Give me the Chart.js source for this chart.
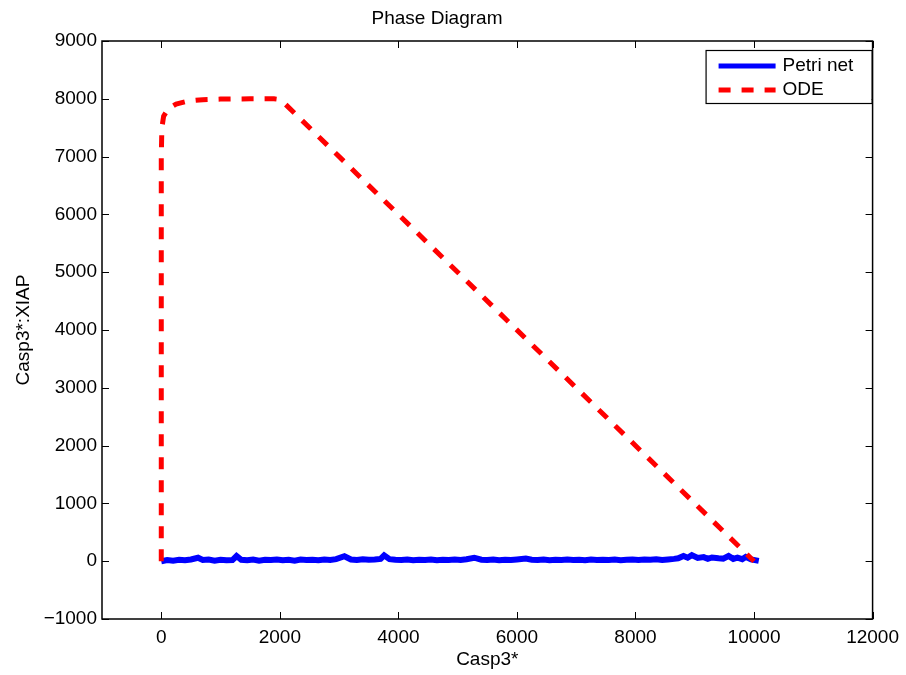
<!DOCTYPE html>
<html>
<head>
<meta charset="utf-8">
<script src="https://cdn.jsdelivr.net/npm/chart.js@4.4.0/dist/chart.umd.min.js"></script>
<style>
  html, body { margin: 0; padding: 0; background: #fff; }
  #wrap { width: 906px; height: 675px; }
</style>
</head>
<body>
<div id="wrap"><canvas id="phase"></canvas></div>
<script>
// series
const petriX = [0, 100, 200, 300, 400, 500, 620, 700, 800, 900, 1000, 1100, 1200, 1270, 1350, 1450, 1550, 1650, 1750, 1850,
  1950, 2050, 2150, 2250, 2350, 2450, 2550, 2650, 2750, 2850, 2950, 3090, 3200, 3300, 3400, 3500, 3600, 3700, 3760, 3850,
  3950, 4050, 4150, 4250, 4350, 4450, 4550, 4650, 4750, 4850, 4950, 5050, 5150, 5280, 5400, 5500, 5600, 5700, 5800, 5900,
  6000, 6150, 6250, 6350, 6450, 6550, 6650, 6750, 6850, 6950, 7050, 7150, 7250, 7350, 7450, 7550, 7650, 7750, 7850, 7950,
  8050, 8150, 8250, 8350, 8450, 8550, 8650, 8720, 8810, 8880, 8950, 9050, 9150, 9220, 9290, 9400, 9480, 9570, 9650, 9720,
  9800, 9860, 9950, 10080];
const petriY = [0, 20, 10, 25, 15, 30, 60, 20, 30, 10, 25, 15, 20, 90, 25, 15, 30, 10, 25, 20,
  30, 15, 25, 10, 30, 20, 25, 15, 30, 20, 35, 85, 30, 20, 35, 25, 30, 40, 100, 35,
  25, 20, 30, 15, 25, 20, 30, 15, 25, 20, 30, 20, 35, 60, 25, 20, 30, 15, 25, 20,
  30, 45, 25, 20, 30, 15, 25, 20, 30, 20, 25, 15, 30, 20, 25, 20, 30, 15, 25, 30,
  20, 30, 25, 35, 20, 30, 40, 50, 90, 60, 105, 55, 70, 40, 65, 50, 45, 90, 40, 60,
  35, 75, 30, 5];
const odeX = [0, 0, 0, 0, 10, 40, 120, 250, 450, 700, 1000, 1500, 1900, 1980, 2050, 10000];
const odeY = [0, 2000, 5000, 7000, 7500, 7700, 7830, 7910, 7960, 7985, 7995, 8000, 8000, 7990, 7950, 0];
const seriesNames = ["Petri net", "ODE"];
const xTickValues = [0, 2000, 4000, 6000, 8000, 10000, 12000];

const toPoints = (xs, ys) => xs.map((x, i) => ({ x: x, y: ys[i] }));
const plainLabel = v => String(v).replace("-", "\u2212");

Chart.defaults.font.family = "'Liberation Sans', Arial, sans-serif";
Chart.defaults.font.size = 19;
Chart.defaults.color = "#000";

// box round the plot, inward ticks on all four sides, legend box
const matlabFrame = {
  id: "matlabFrame",
  afterDraw(chart) {
    const ctx = chart.ctx;
    const a = chart.chartArea;
    const xs = chart.scales.x, ys = chart.scales.y;
    ctx.save();
    ctx.strokeStyle = "#000";
    ctx.lineWidth = 1.5;
    ctx.strokeRect(a.left, a.top, a.right - a.left, a.bottom - a.top);
    ctx.lineWidth = 1;
    const tl = 7;
    ctx.beginPath();
    xs.ticks.forEach(t => {
      const px = Math.round(xs.getPixelForValue(t.value)) + 0.5;
      ctx.moveTo(px, a.bottom); ctx.lineTo(px, a.bottom - tl);
      ctx.moveTo(px, a.top); ctx.lineTo(px, a.top + tl);
    });
    ys.ticks.forEach(t => {
      const py = Math.round(ys.getPixelForValue(t.value)) + 0.5;
      ctx.moveTo(a.left, py); ctx.lineTo(a.left + tl, py);
      ctx.moveTo(a.right, py); ctx.lineTo(a.right - tl, py);
    });
    ctx.stroke();

    // legend
    const bx = a.right - 167, by = a.top + 9, bw = 166, bh = 53;
    ctx.fillStyle = "#fff";
    ctx.fillRect(bx, by, bw, bh);
    ctx.lineWidth = 1.2;
    ctx.strokeRect(bx + 0.5, by + 0.5, bw, bh);
    const dsets = chart.data.datasets;
    [0, 1].forEach(i => {
      const ds = dsets[i];
      const ly = by + 16 + i * 24;
      ctx.beginPath();
      ctx.strokeStyle = ds.borderColor;
      ctx.lineWidth = 5;
      ctx.setLineDash(ds.borderDash || []);
      ctx.moveTo(bx + 13, ly);
      ctx.lineTo(bx + 70, ly);
      ctx.stroke();
      ctx.setLineDash([]);
      ctx.fillStyle = "#000";
      ctx.font = "19px 'Liberation Sans', Arial, sans-serif";
      ctx.textBaseline = "middle";
      ctx.textAlign = "left";
      ctx.fillText(ds.label, bx + 77, ly);
    });
    ctx.restore();
  }
};

new Chart(document.getElementById("phase"), {
  type: "scatter",
  data: {
    datasets: [
      {
        label: seriesNames[0],
        data: toPoints(petriX, petriY),
        showLine: true,
        borderColor: "#0000ff",
        backgroundColor: "#0000ff",
        borderWidth: 6,
        pointRadius: 0,
        tension: 0,
        order: 2
      },
      {
        label: seriesNames[1],
        data: toPoints(odeX, odeY),
        showLine: true,
        borderColor: "#ff0000",
        backgroundColor: "#ff0000",
        borderWidth: 5,
        borderDash: [12, 11],
        pointRadius: 0,
        tension: 0,
        order: 1
      }
    ]
  },
  options: {
    responsive: true,
    maintainAspectRatio: false,
    animation: false,
    layout: { padding: { left: 0, right: 32, top: 0, bottom: 0 } },
    plugins: {
      legend: { display: false },
      tooltip: { enabled: false },
      title: {
        display: true,
        text: "Phase Diagram",
        color: "#000",
        font: { size: 19, weight: "normal" },
        padding: { top: 7.6, bottom: 10.6 }
      }
    },
    scales: {
      x: {
        type: "linear",
        min: -1000,
        max: 12000,
        grid: { display: false, drawTicks: false },
        border: { display: false },
        afterBuildTicks: s => { s.ticks = xTickValues.map(v => ({ value: v })); },
        afterFit: s => { s.height = 56; },
        ticks: { padding: 7, maxRotation: 0, autoSkip: false, color: "#000", callback: plainLabel },
        title: { display: true, text: "Casp3*", color: "#000", padding: { top: 0, bottom: 3.6 } }
      },
      y: {
        type: "linear",
        min: -1000,
        max: 9000,
        grid: { display: false, drawTicks: false },
        border: { display: false },
        afterFit: s => { s.width = 102; },
        ticks: { stepSize: 1000, padding: 5, color: "#000", callback: plainLabel },
        title: { display: true, text: "Casp3*:XIAP", color: "#000", padding: { top: 12.6, bottom: 0 } }
      }
    }
  },
  plugins: [matlabFrame]
});
</script>
</body>
</html>
